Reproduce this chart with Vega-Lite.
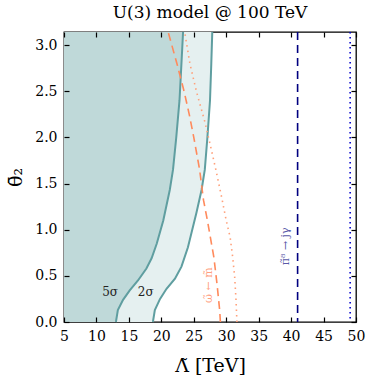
{
  "$schema": "https://vega.github.io/schema/vega-lite/v6.json",
  "width": 292,
  "height": 290,
  "autosize": "none",
  "padding": {"left": 64, "top": 32, "right": 18, "bottom": 64},
  "background": "white",
  "config": {
    "view": {"stroke": "black", "strokeWidth": 1.3}
  },
  "title": {"text": "U(3) model @ 100 TeV", "font": "DejaVu Serif", "fontSize": 17, "fontWeight": "normal", "color": "black", "offset": 6},
  "data": {"values": [
    {"series": "s2", "lam": 18.7, "theta": 0},
    {"series": "s2", "lam": 19.0, "theta": 0.13},
    {"series": "s2", "lam": 19.8, "theta": 0.25},
    {"series": "s2", "lam": 20.8, "theta": 0.36},
    {"series": "s2", "lam": 22.1, "theta": 0.47},
    {"series": "s2", "lam": 23.1, "theta": 0.6},
    {"series": "s2", "lam": 24.1, "theta": 0.81},
    {"series": "s2", "lam": 25.4, "theta": 1.18},
    {"series": "s2", "lam": 26.2, "theta": 1.43},
    {"series": "s2", "lam": 26.7, "theta": 1.65},
    {"series": "s2", "lam": 27.1, "theta": 2.0},
    {"series": "s2", "lam": 27.5, "theta": 2.4},
    {"series": "s2", "lam": 27.7, "theta": 2.8},
    {"series": "s2", "lam": 27.85, "theta": 3.1416},
    {"series": "s5", "lam": 13.0, "theta": 0},
    {"series": "s5", "lam": 13.3, "theta": 0.13},
    {"series": "s5", "lam": 14.1, "theta": 0.24},
    {"series": "s5", "lam": 15.1, "theta": 0.34},
    {"series": "s5", "lam": 16.4, "theta": 0.45},
    {"series": "s5", "lam": 17.7, "theta": 0.58},
    {"series": "s5", "lam": 18.5, "theta": 0.69},
    {"series": "s5", "lam": 19.3, "theta": 0.85},
    {"series": "s5", "lam": 20.3, "theta": 1.1},
    {"series": "s5", "lam": 21.3, "theta": 1.43},
    {"series": "s5", "lam": 21.8, "theta": 1.65},
    {"series": "s5", "lam": 22.3, "theta": 2.0},
    {"series": "s5", "lam": 22.8, "theta": 2.4},
    {"series": "s5", "lam": 23.1, "theta": 2.8},
    {"series": "s5", "lam": 23.35, "theta": 3.1416},
    {"series": "odash", "lam": 21.05, "theta": 3.1416},
    {"series": "odash", "lam": 22.4, "theta": 2.8},
    {"series": "odash", "lam": 23.5, "theta": 2.5},
    {"series": "odash", "lam": 24.3, "theta": 2.25},
    {"series": "odash", "lam": 25.0, "theta": 2.0},
    {"series": "odash", "lam": 25.9, "theta": 1.65},
    {"series": "odash", "lam": 26.5, "theta": 1.32},
    {"series": "odash", "lam": 27.1, "theta": 1.1},
    {"series": "odash", "lam": 28.1, "theta": 0.7},
    {"series": "odash", "lam": 28.6, "theta": 0.4},
    {"series": "odash", "lam": 29.0, "theta": 0.12},
    {"series": "odash", "lam": 29.1, "theta": 0},
    {"series": "odot", "lam": 23.6, "theta": 3.1416},
    {"series": "odot", "lam": 24.4, "theta": 2.8},
    {"series": "odot", "lam": 25.4, "theta": 2.5},
    {"series": "odot", "lam": 26.7, "theta": 2.17},
    {"series": "odot", "lam": 27.6, "theta": 1.9},
    {"series": "odot", "lam": 28.4, "theta": 1.65},
    {"series": "odot", "lam": 29.3, "theta": 1.35},
    {"series": "odot", "lam": 30.0, "theta": 1.1},
    {"series": "odot", "lam": 30.6, "theta": 0.92},
    {"series": "odot", "lam": 31.0, "theta": 0.7},
    {"series": "odot", "lam": 31.3, "theta": 0.49},
    {"series": "odot", "lam": 31.5, "theta": 0.25},
    {"series": "odot", "lam": 31.65, "theta": 0},
    {"series": "navy", "lam": 41.0},
    {"series": "blue", "lam": 49.1},
    {"series": "lab", "lam": 12.1, "theta": 0.32, "text": "5σ"},
    {"series": "lab", "lam": 17.6, "theta": 0.32, "text": "2σ"},
    {"series": "olab", "lam": 27.4, "theta": 0.4, "text": "ω̃ ← m̃"},
    {"series": "nlab", "lam": 39.2, "theta": 0.82, "text": "π̃⁸ → jγ"}
  ]},
  "resolve": {"axis": {"x": "independent", "y": "independent"}},
  "layer": [
    {
      "transform": [{"filter": "datum.series == 's2'"}],
      "mark": {"type": "area", "orient": "horizontal", "color": "#e5f0f0"},
      "encoding": {
        "y": {"field": "theta", "type": "quantitative", "scale": {"domain": [0, 3.1416], "nice": false, "zero": false},
              "axis": {"orient": "left", "values": [0, 0.5, 1, 1.5, 2, 2.5, 3], "format": ".1f", "title": "θ̄₂", "titlePadding": 9,
                       "domain": false, "grid": false, "ticks": true, "tickColor": "black", "tickSize": 5, "tickWidth": 1.2, "zindex": 1, "offset": -5,
                       "labelFont": "DejaVu Serif", "labelFontSize": 14, "labelColor": "black", "labelPadding": 7, "labelFlush": false, "labelOverlap": false,
                       "titleFont": "DejaVu Serif", "titleFontSize": 19, "titleColor": "black", "titleFontWeight": "normal"}},
        "x": {"field": "lam", "type": "quantitative", "scale": {"domain": [5, 50], "nice": false, "zero": false},
              "axis": {"orient": "bottom", "values": [5, 10, 15, 20, 25, 30, 35, 40, 45, 50], "format": "d", "title": "Λ̃ [TeV]", "titlePadding": 13,
                       "domain": false, "grid": false, "ticks": true, "tickColor": "black", "tickSize": 5, "tickWidth": 1.2, "zindex": 1, "offset": -5,
                       "labelFont": "DejaVu Serif", "labelFontSize": 14, "labelColor": "black", "labelPadding": 7, "labelFlush": false, "labelOverlap": false,
                       "titleFont": "DejaVu Serif", "titleFontSize": 19, "titleColor": "black", "titleFontWeight": "normal"}},
        "x2": {"datum": 5}
      }
    },
    {
      "transform": [{"filter": "datum.series == 's5'"}],
      "mark": {"type": "area", "orient": "horizontal", "color": "#bfd9d9"},
      "encoding": {
        "y": {"field": "theta", "type": "quantitative", "scale": {"domain": [0, 3.1416], "nice": false, "zero": false},
              "axis": {"orient": "right", "values": [0, 0.5, 1, 1.5, 2, 2.5, 3], "labels": false, "title": null,
                       "domain": false, "grid": false, "ticks": true, "tickColor": "black", "tickSize": 5, "tickWidth": 1.2, "zindex": 1, "offset": -5}},
        "x": {"field": "lam", "type": "quantitative", "scale": {"domain": [5, 50], "nice": false, "zero": false},
              "axis": {"orient": "top", "values": [5, 10, 15, 20, 25, 30, 35, 40, 45, 50], "labels": false, "title": null,
                       "domain": false, "grid": false, "ticks": true, "tickColor": "black", "tickSize": 5, "tickWidth": 1.2, "zindex": 1, "offset": -5}},
        "x2": {"datum": 5}
      }
    },
    {
      "transform": [{"filter": "datum.series == 's2' || datum.series == 's5'"}],
      "mark": {"type": "line", "color": "#5f9ea0", "strokeWidth": 2},
      "encoding": {
        "y": {"field": "theta", "type": "quantitative", "scale": {"domain": [0, 3.1416], "nice": false, "zero": false}, "axis": null},
        "x": {"field": "lam", "type": "quantitative", "scale": {"domain": [5, 50], "nice": false, "zero": false}, "axis": null},
        "detail": {"field": "series"},
        "order": {"field": "theta", "type": "quantitative"}
      }
    },
    {
      "transform": [{"filter": "datum.series == 'odash'"}],
      "mark": {"type": "line", "color": "#ff8a5c", "strokeWidth": 1.6, "strokeDash": [8, 5], "clip": true},
      "encoding": {
        "y": {"field": "theta", "type": "quantitative", "scale": {"domain": [0, 3.1416], "nice": false, "zero": false}, "axis": null},
        "x": {"field": "lam", "type": "quantitative", "scale": {"domain": [5, 50], "nice": false, "zero": false}, "axis": null},
        "order": {"field": "theta", "type": "quantitative"}
      }
    },
    {
      "transform": [{"filter": "datum.series == 'odot'"}],
      "mark": {"type": "line", "color": "#ffa07a", "strokeWidth": 1.6, "strokeDash": [1.5, 4], "clip": true},
      "encoding": {
        "y": {"field": "theta", "type": "quantitative", "scale": {"domain": [0, 3.1416], "nice": false, "zero": false}, "axis": null},
        "x": {"field": "lam", "type": "quantitative", "scale": {"domain": [5, 50], "nice": false, "zero": false}, "axis": null},
        "order": {"field": "theta", "type": "quantitative"}
      }
    },
    {
      "transform": [{"filter": "datum.series == 'navy'"}],
      "mark": {"type": "rule", "color": "#000080", "strokeWidth": 1.6, "strokeDash": [8, 5]},
      "encoding": {
        "x": {"field": "lam", "type": "quantitative", "scale": {"domain": [5, 50], "nice": false, "zero": false}, "axis": null}
      }
    },
    {
      "transform": [{"filter": "datum.series == 'blue'"}],
      "mark": {"type": "rule", "color": "#0000cd", "strokeWidth": 1.6, "strokeDash": [1.5, 3.5]},
      "encoding": {
        "x": {"field": "lam", "type": "quantitative", "scale": {"domain": [5, 50], "nice": false, "zero": false}, "axis": null}
      }
    },
    {
      "transform": [{"filter": "datum.series == 'lab'"}],
      "mark": {"type": "text", "font": "DejaVu Serif", "fontSize": 12, "color": "#222222"},
      "encoding": {
        "y": {"field": "theta", "type": "quantitative", "scale": {"domain": [0, 3.1416], "nice": false, "zero": false}, "axis": null},
        "x": {"field": "lam", "type": "quantitative", "scale": {"domain": [5, 50], "nice": false, "zero": false}, "axis": null},
        "text": {"field": "text"}
      }
    },
    {
      "transform": [{"filter": "datum.series == 'olab'"}],
      "mark": {"type": "text", "font": "DejaVu Serif", "fontSize": 11, "color": "#ff9f7f", "angle": 270},
      "encoding": {
        "y": {"field": "theta", "type": "quantitative", "scale": {"domain": [0, 3.1416], "nice": false, "zero": false}, "axis": null},
        "x": {"field": "lam", "type": "quantitative", "scale": {"domain": [5, 50], "nice": false, "zero": false}, "axis": null},
        "text": {"field": "text"}
      }
    },
    {
      "transform": [{"filter": "datum.series == 'nlab'"}],
      "mark": {"type": "text", "font": "DejaVu Serif", "fontSize": 11, "color": "#5a5aa8", "angle": 270},
      "encoding": {
        "y": {"field": "theta", "type": "quantitative", "scale": {"domain": [0, 3.1416], "nice": false, "zero": false}, "axis": null},
        "x": {"field": "lam", "type": "quantitative", "scale": {"domain": [5, 50], "nice": false, "zero": false}, "axis": null},
        "text": {"field": "text"}
      }
    }
  ]
}
